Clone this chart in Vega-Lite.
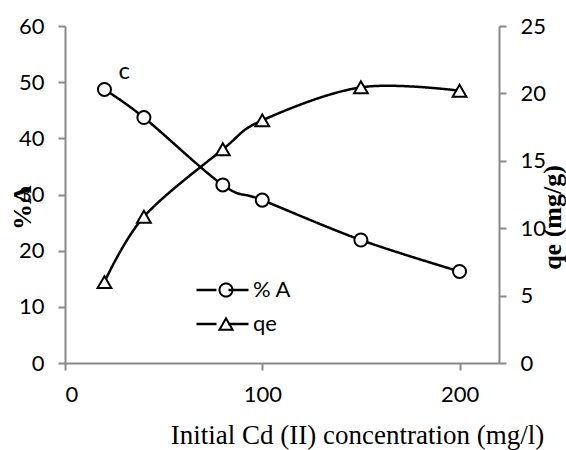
{
  "$schema": "https://vega.github.io/schema/vega-lite/v6.json",
  "width": 434,
  "height": 337,
  "autosize": {"type": "none"},
  "padding": {"left": 65, "top": 26, "right": 67, "bottom": 87},
  "background": "white",
  "config": {
    "view": {"stroke": null},
    "axis": {
      "grid": false,
      "domainColor": "#898989",
      "domainWidth": 2,
      "tickColor": "#898989",
      "tickWidth": 2,
      "tickSize": 7,
      "labelPadding": 14,
      "labelFont": "Lato",
      "labelFontSize": 22,
      "labelColor": "black",
      "titleFont": "Liberation Serif",
      "titleFontSize": 26,
      "titleColor": "black"
    }
  },
  "datasets": {
    "pct": [
      {"series": "% A", "conc": 20, "value": 48.7},
      {"series": "% A", "conc": 40, "value": 43.7},
      {"series": "% A", "conc": 80, "value": 31.7},
      {"series": "% A", "conc": 100, "value": 29.0},
      {"series": "% A", "conc": 150, "value": 21.9},
      {"series": "% A", "conc": 200, "value": 16.3}
    ],
    "qe": [
      {"series": "qe", "conc": 20, "value": 6.0},
      {"series": "qe", "conc": 40, "value": 10.85},
      {"series": "qe", "conc": 80, "value": 15.85},
      {"series": "qe", "conc": 100, "value": 18.0},
      {"series": "qe", "conc": 150, "value": 20.45},
      {"series": "qe", "conc": 200, "value": 20.2}
    ],
    "note": [
      {"label": "c", "conc": 30, "value": 51.8}
    ]
  },
  "encoding": {
    "x": {
      "field": "conc",
      "type": "quantitative",
      "scale": {"domain": [0, 220], "nice": false},
      "axis": {
        "values": [0, 100, 200],
        "title": "Initial Cd (II) concentration (mg/l)",
        "titleFontWeight": "normal",
        "titleFontSize": 27,
        "titleX": 292,
        "titleY": 72,
        "titleAlign": "center",
        "titleBaseline": "middle"
      }
    }
  },
  "layer": [
    {
      "data": {"name": "pct"},
      "encoding": {
        "y": {
          "field": "value",
          "type": "quantitative",
          "scale": {"domain": [0, 60], "nice": false},
          "axis": {
            "orient": "left",
            "values": [0, 10, 20, 30, 40, 50, 60],
            "title": "%A",
            "titleFontWeight": "bold",
            "titleAngle": 270,
            "titleX": -43,
            "titleY": 181,
            "titleAlign": "center",
            "titleBaseline": "middle"
          }
        }
      },
      "layer": [
        {
          "mark": {"type": "line", "color": "black", "interpolate": "cardinal"},
          "encoding": {
            "strokeWidth": {
              "field": "series",
              "type": "ordinal",
              "scale": {"range": [2.5, 2.5]},
              "legend": {
                "title": null,
                "orient": "none",
                "legendX": 130,
                "legendY": 252,
                "symbolType": "stroke",
                "symbolSize": 2704,
                "symbolDash": [20, 12, 20],
                "symbolStrokeColor": "black",
                "labelFont": "Lato",
                "labelFontSize": 22,
                "labelColor": "black",
                "labelOffset": 3,
                "clipHeight": 24,
                "rowPadding": 10
              }
            },
            "strokeDash": {
              "datum": "% A",
              "type": "nominal",
              "scale": {"domain": ["% A", "qe"], "range": [[1, 0], [1, 0]]},
              "legend": {
                "title": null,
                "orient": "none",
                "legendX": 150,
                "legendY": 252,
                "symbolSize": 170,
                "symbolFillColor": "white",
                "symbolStrokeColor": "black",
                "symbolStrokeWidth": 2,
                "symbolOpacity": 1,
                "labelFont": "Lato",
                "labelFontSize": 22,
                "labelColor": "black",
                "labelOpacity": 0,
                "clipHeight": 24,
                "rowPadding": 10
              }
            }
          }
        },
        {
          "mark": {"type": "point", "filled": false, "color": "black", "fill": "white", "fillOpacity": 1, "strokeWidth": 2, "size": 170, "opacity": 1},
          "encoding": {
            "shape": {
              "datum": "% A",
              "type": "nominal",
              "scale": {"domain": ["% A", "qe"], "range": ["circle", "triangle-up"]},
              "legend": {
                "title": null,
                "orient": "none",
                "legendX": 150,
                "legendY": 252,
                "symbolSize": 170,
                "symbolFillColor": "white",
                "symbolStrokeColor": "black",
                "symbolStrokeWidth": 2,
                "symbolOpacity": 1,
                "labelFont": "Lato",
                "labelFontSize": 22,
                "labelColor": "black",
                "labelOpacity": 0,
                "clipHeight": 24,
                "rowPadding": 10
              }
            }
          }
        },
        {
          "data": {"name": "note"},
          "mark": {"type": "text", "font": "Lato", "fontSize": 24, "color": "black", "align": "center", "baseline": "middle"},
          "encoding": {"text": {"field": "label"}}
        }
      ]
    },
    {
      "data": {"name": "qe"},
      "encoding": {
        "y": {
          "field": "value",
          "type": "quantitative",
          "scale": {"domain": [0, 25], "nice": false},
          "axis": {
            "orient": "right",
            "values": [0, 5, 10, 15, 20, 25],
            "title": "qe (mg/g)",
            "titleFontWeight": "bold",
            "titleAngle": 270,
            "titleX": 53,
            "titleY": 191,
            "titleAlign": "center",
            "titleBaseline": "middle"
          }
        }
      },
      "layer": [
        {
          "mark": {"type": "line", "color": "black", "interpolate": "cardinal"},
          "encoding": {
            "strokeWidth": {"field": "series", "type": "ordinal"},
            "strokeDash": {"datum": "qe", "type": "nominal"}
          }
        },
        {
          "mark": {"type": "point", "filled": false, "color": "black", "fill": "white", "fillOpacity": 1, "strokeWidth": 2, "size": 190, "opacity": 1},
          "encoding": {
            "shape": {"datum": "qe", "type": "nominal"}
          }
        }
      ]
    }
  ],
  "resolve": {"scale": {"y": "independent"}}
}
